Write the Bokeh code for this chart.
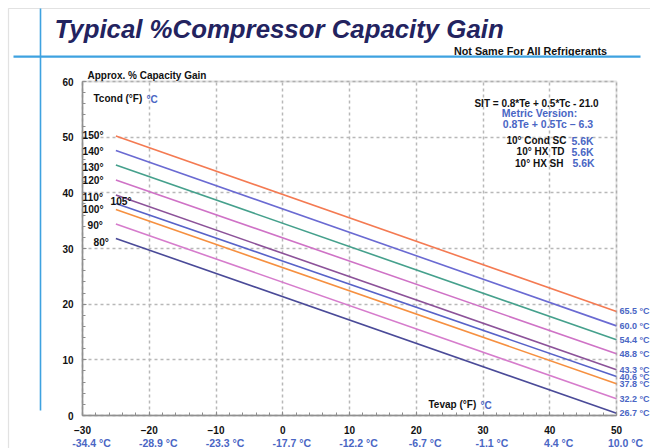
from bokeh.plotting import figure
from bokeh.models import Label, BoxAnnotation, Range1d, FixedTicker
from bokeh.embed import file_html
from bokeh.resources import INLINE

# ---------------- data ----------------
tcond_f = ["150°", "140°", "130°", "120°", "110°", "105°", "100°", "90°", "80°"]
tcond_c = ["65.5 °C", "60.0 °C", "54.4 °C", "48.8 °C", "43.3 °C", "40.6 °C", "37.8 °C", "32.2 °C", "26.7 °C"]
tevap_ends = [-25, 50]
gain_start = [50.2, 47.6, 45.0, 42.3, 39.6, 38.1, 37.0, 34.4, 31.8]
gain_end = [18.7, 16.1, 13.6, 11.1, 8.2, 7.0, 5.7, 3.0, 0.4]
x_ticks = [-30, -20, -10, 0, 10, 20, 30, 40, 50]
x_ticks_c = ["-34.4 °C", "-28.9 °C", "-23.3 °C", "-17.7 °C", "-12.2 °C", "-6.7 °C", "-1.1 °C", "4.4 °C", "10.0 °C"]
y_ticks = [0, 10, 20, 30, 40, 50, 60]
x_lim = (-30, 50)
y_lim = (0, 60)

# ---------------- styles ----------------
colors = ["#f47a52", "#6a6ad2", "#45a08c", "#cf72c6", "#8c5299", "#5762c8", "#f69040", "#d67ccc", "#4a4a98"]
BLUE = "#4a66c4"
LINEBLUE = "#3ea2e0"
FONT = "Liberation Sans"

W, H = 650, 448
# pixel geometry of the plot box (page pixels)
PX0, PX1, PY0, PY1 = 82, 616, 415, 81

def dx(px):
    return x_lim[0] + (px - PX0) * (x_lim[1] - x_lim[0]) / (PX1 - PX0)

def dy(py):
    return y_lim[0] + (PY0 - py) * (y_lim[1] - y_lim[0]) / (PY0 - PY1)

p = figure(width=W, height=H, output_backend="svg", toolbar_location=None,
           x_range=Range1d(dx(0), dx(W)), y_range=Range1d(dy(H), dy(0)), title=None,
           min_border=0, min_border_left=0, min_border_right=0,
           min_border_top=0, min_border_bottom=0)
p.background_fill_color = "white"
p.border_fill_color = "white"
p.outline_line_color = None

xa, ya = p.xaxis[0], p.yaxis[0]
xa.fixed_location = y_lim[0]
ya.fixed_location = x_lim[0]
xa.bounds = x_lim
ya.bounds = y_lim
for ax in (xa, ya):
    ax.axis_line_color = "#8c8c8c"
    ax.axis_line_width = 1.5
    ax.major_tick_line_color = "#8c8c8c"
    ax.minor_tick_line_color = "#8c8c8c"
    ax.major_tick_in = 4
    ax.major_tick_out = 0
    ax.minor_tick_in = 3
    ax.minor_tick_out = 0
    ax.major_label_text_font = FONT
    ax.major_label_text_font_style = "bold"
    ax.major_label_text_font_size = "10px"
    ax.major_label_text_color = "#111111"
xa.ticker = FixedTicker(ticks=x_ticks, minor_ticks=list(range(-30, 51, 2)))
ya.ticker = FixedTicker(ticks=y_ticks, minor_ticks=list(range(0, 61, 2)))
xa.major_label_standoff = 10
ya.major_label_standoff = 9

xg, yg = p.xgrid[0], p.ygrid[0]
if "cross_bounds" in xg.properties():
    xg.cross_bounds = y_lim
    yg.cross_bounds = x_lim
    for g in (xg, yg):
        g.grid_line_color = "#b8b8b8"
        g.grid_line_dash = "3 3"
        g.grid_line_width = 1.5
else:
    xg.visible = False
    yg.visible = False
    p.segment(x0=x_ticks[1:-1], x1=x_ticks[1:-1], y0=y_lim[0], y1=y_lim[1],
              line_color="#b8b8b8", line_dash="3 3", line_width=1.5)
    p.segment(x0=x_lim[0], x1=x_lim[1], y0=y_ticks[1:-1], y1=y_ticks[1:-1],
              line_color="#b8b8b8", line_dash="3 3", line_width=1.5)

# plot box (top and right edges)
p.add_layout(BoxAnnotation(left=x_lim[0], right=x_lim[1], bottom=y_lim[0], top=y_lim[1],
                           fill_alpha=0, line_color="#9a9a9a", line_width=1.8))

# curves
for s, e, c in zip(gain_start, gain_end, colors):
    p.line(tevap_ends, [s, e], line_color=c, line_width=1.6)

def lab(px, py, text, size="10px", color="#111111", align="left", style="bold", baseline="middle"):
    p.add_layout(Label(x=dx(px), y=dy(py), text=text, text_font=FONT, text_font_size=size,
                       text_font_style=style, text_color=color, text_align=align,
                       text_baseline=baseline))

# right celsius labels at line ends
for e, t in zip(gain_end, tcond_c):
    p.add_layout(Label(x=x_lim[1], y=e, x_offset=3, text=t, text_font=FONT, text_font_size="9px",
                       text_font_style="bold", text_color=BLUE, text_align="left",
                       text_baseline="middle"))

# left fahrenheit labels
left_pos = [(82, 135), (82, 150.7), (82, 166.5), (82, 180), (82, 196.5), (110, 200.5), (82, 208.5), (87, 225), (93, 241.5)]
for (px, py), t in zip(left_pos, tcond_f):
    lab(px, py, t, size="10.2px")

# bottom celsius tick labels
for xv, t in zip(x_ticks, x_ticks_c):
    p.add_layout(Label(x=xv, y=dy(442), x_offset=9, text=t, text_font=FONT, text_font_size="10.5px",
                       text_font_style="bold", text_color=BLUE, text_align="center",
                       text_baseline="middle"))

# titles and notes
lab(54, 28.5, "Typical %Compressor Capacity Gain", size="25.8px", color="#23235f",
    style="bold italic", baseline="middle")
lab(607, 50, "Not Same For All Refrigerants", size="10.8px", align="right")
lab(87, 75, "Approx. % Capacity Gain", size="10px")
lab(93, 98, "Tcond (°F)", size="10px")
lab(146, 99, "°C", size="10px", color=BLUE)
lab(536, 103, "SIT = 0.8*Te + 0.5*Tc - 21.0", size="10px", align="center")
lab(539, 112.5, "Metric Version:", size="10.5px", color=BLUE, align="center")
lab(547.5, 123.5, "0.8Te + 0.5Tc – 6.3", size="10.5px", color=BLUE, align="center")
lab(566, 140, "10° Cond SC", size="10px", align="right")
lab(571, 140, "5.6K", size="10.5px", color=BLUE)
lab(564, 151, "10° HX TD", size="10px", align="right")
lab(571, 151, "5.6K", size="10.5px", color=BLUE)
lab(563, 162.5, "10° HX SH", size="10px", align="right")
lab(572, 162.5, "5.6K", size="10.5px", color=BLUE)
lab(428, 404, "Tevap (°F)", size="10px")
lab(480, 404.5, "°C", size="10px", color=BLUE)

# scan frame and decorative blue rules
p.add_layout(BoxAnnotation(left=dx(8), right=dx(W + 20), top=dy(8), bottom=dy(H + 20),
                           fill_alpha=0, line_color="#a0a0a0", line_width=1.2))
p.add_layout(BoxAnnotation(left=dx(39.2), right=dx(40.8), top=dy(8), bottom=dy(410),
                           fill_color=LINEBLUE, fill_alpha=1, line_alpha=0))
p.add_layout(BoxAnnotation(left=dx(13), right=dx(640), top=dy(55), bottom=dy(57.2),
                           fill_color=LINEBLUE, fill_alpha=1, line_alpha=0))

open("out.html", "w").write(file_html(p, INLINE))
